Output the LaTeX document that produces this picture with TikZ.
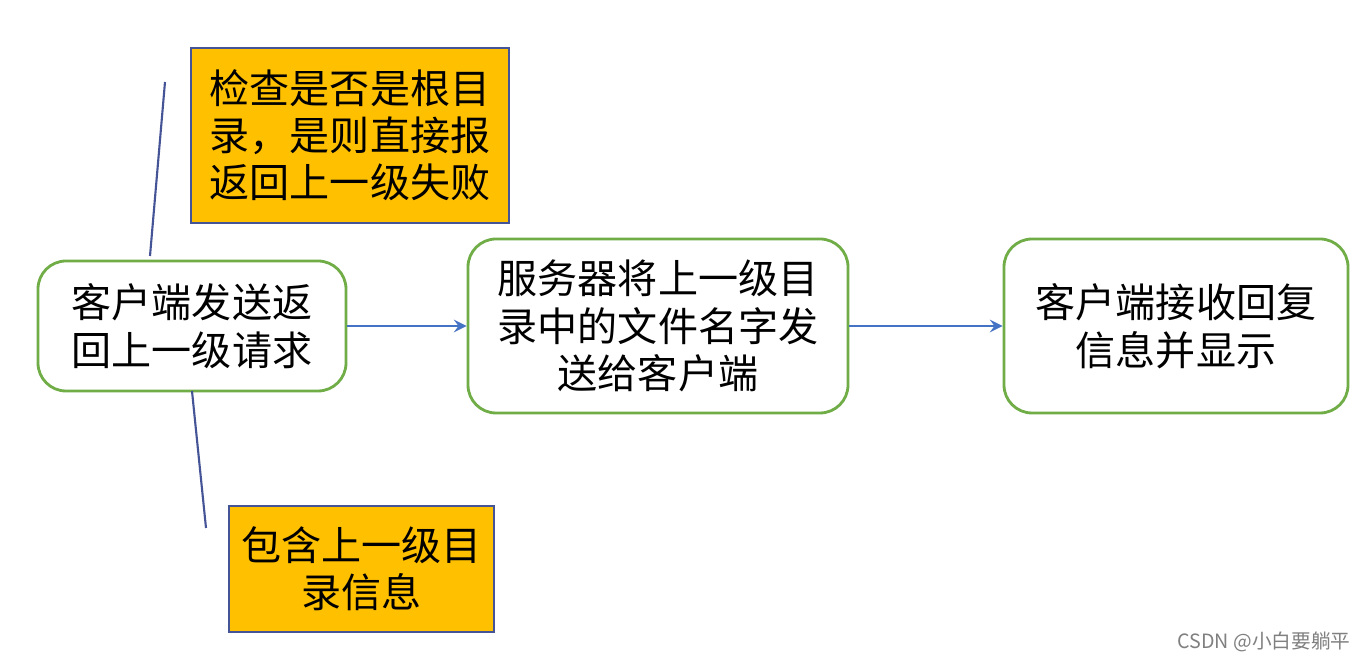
\documentclass[tikz,border=0pt]{standalone}
\usepackage{fontspec}
\newfontfamily\cjk{Noto Sans CJK SC}
\definecolor{boxgreen}{RGB}{112,173,71}
\definecolor{notefill}{RGB}{255,192,0}
\definecolor{noteline}{RGB}{68,84,150}
\definecolor{linkblue}{RGB}{68,114,196}

\begin{document}
\begin{tikzpicture}[
  >=stealth,
  block/.style={
  	draw=boxgreen,
  	line width=0.8pt,
  	rounded corners=0.28cm,
  	fill=white,
  	align=center,
  	inner sep=0pt,
  	font=\cjk\fontsize{11.4pt}{13.6pt}\selectfont
  },
  note/.style={
  	draw=noteline,
  	line width=0.5pt,
  	fill=notefill,
  	align=center,
  	inner sep=0pt,
  	font=\cjk\fontsize{11.4pt}{13.4pt}\selectfont
  },
  link/.style={
  	->,
  	draw=linkblue,
  	line width=0.6pt
  },
  branch/.style={
  	draw=noteline,
  	line width=0.6pt
  }
  ]
  \useasboundingbox[fill=white] (0,0) rectangle (13.65,-6.62);

  \node[block,minimum width=3.08cm,minimum height=1.30cm] (request) at (1.92,-3.26) {客户端发送返\\回上一级请求};
  \node[block,minimum width=3.80cm,minimum height=1.74cm] (server) at (6.58,-3.26) {服务器将上一级目\\录中的文件名字发\\送给客户端};
  \node[block,minimum width=3.44cm,minimum height=1.74cm] (client) at (11.76,-3.26) {客户端接收回复\\信息并显示};

  \node[note,minimum width=3.18cm,minimum height=1.75cm] (check) at (3.50,-1.355) {检查是否是根目\\录，是则直接报\\返回上一级失败};
  \node[note,minimum width=2.65cm,minimum height=1.26cm] (info) at (3.615,-5.69) {包含上一级目\\录信息};

  \coordinate (chkhi) at (1.65,-0.82);
  \coordinate (chklo) at (1.50,-2.56);
  \coordinate (infhi) at (1.92,-3.91);
  \coordinate (inflo) at (2.06,-5.28);

  \draw[branch] (chklo) -- (chkhi);
  \draw[branch] (infhi) -- (inflo);

  \draw[link] (request) -- (server);
  \draw[link] (server) -- (client);

  \node[text=gray,font=\cjk\fontsize{5.6pt}{6pt}\selectfont] (mark) at (12.64,-6.42) {CSDN @小白要躺平};
\end{tikzpicture}
\end{document}
